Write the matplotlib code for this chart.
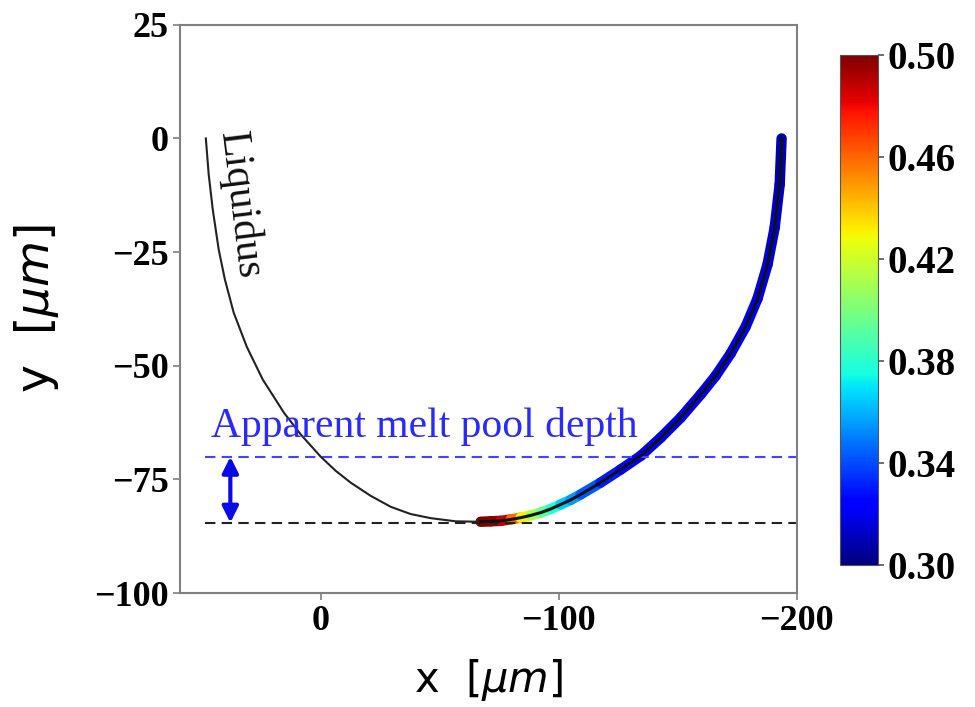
import numpy as np
import matplotlib.pyplot as plt
from matplotlib.collections import LineCollection
from matplotlib.colors import Normalize
from matplotlib.cm import ScalarMappable

# liquidus, left (uncoloured) branch
left_x = [48.3, 47.1, 45.4, 42.9, 40.3, 36.6, 31.1, 24.4, 15.5, 8.4, 0.0, -6.3, -12.6,
          -21.0, -29.4, -37.8, -46.2, -56.7, -67.2]
left_y = [0.0, -7.9, -15.6, -24.4, -31.0, -38.3, -45.8, -53.0, -60.3, -65.1, -70.0,
          -73.1, -75.7, -78.6, -81.0, -82.6, -83.5, -84.2, -84.3]

# liquidus, right branch coloured by value
right_x = [-67.2, -71.4, -75.6, -79.8, -84.0, -88.2, -92.4, -96.6, -100.8, -105.0, -109.2,
           -117.6, -126.1, -134.5, -142.9, -151.3, -159.7, -166.0, -172.3, -178.6,
           -183.6, -187.8, -190.8, -192.9, -193.7]
right_y = [-84.3, -84.2, -84.1, -83.8, -83.4, -82.9, -82.3, -81.5, -80.5, -79.5, -78.3,
           -75.7, -72.8, -69.8, -65.8, -61.4, -56.3, -52.2, -47.3, -41.4, -35.2, -27.7,
           -19.6, -10.1, 0.0]
right_val = [0.50, 0.50, 0.495, 0.48, 0.44, 0.42, 0.40, 0.385, 0.37, 0.36, 0.35,
             0.335, 0.325, 0.32, 0.32, 0.32, 0.32, 0.32, 0.32, 0.32, 0.32, 0.315,
             0.315, 0.31, 0.31]

apparent_depth = -70.0
true_depth = -84.5
arrow_x = 38.0
vmin, vmax = 0.30, 0.50
cbar_ticks = [0.30, 0.34, 0.38, 0.42, 0.46, 0.50]

serif = 'Liberation Serif'
frame = '#808080'

fig = plt.figure(figsize=(9.75, 7.07), dpi=100)
ax = fig.add_axes([0.185, 0.161, 0.632, 0.804])

# coloured band along the right branch
pts = np.column_stack([right_x, right_y])
segs = np.stack([pts[:-1], pts[1:]], axis=1)
seg_val = 0.5 * (np.array(right_val[:-1]) + np.array(right_val[1:]))
norm = Normalize(vmin, vmax)
lc = LineCollection(segs, cmap='jet', norm=norm, linewidths=7.5, capstyle='round',
                    joinstyle='round')
lc.set_array(seg_val)
ax.add_collection(lc)

ax.plot(left_x, left_y, color='#222222', lw=1.5, zorder=3, solid_joinstyle='round')
ax.plot(right_x, right_y, color='#111111', lw=2.2, zorder=3, solid_joinstyle='round')

ax.axhline(apparent_depth, xmin=0.04, xmax=1, color='#4444ff', ls='--', lw=1.5, dashes=(5, 3))
ax.axhline(true_depth, xmin=0.04, xmax=1, color='#222222', ls='--', lw=1.5, dashes=(5, 3), zorder=2)
ax.annotate('', xy=(arrow_x, true_depth), xytext=(arrow_x, apparent_depth),
            arrowprops=dict(arrowstyle='<|-|>', color='#0a0ae6', lw=3,
                            mutation_scale=24, shrinkA=0, shrinkB=0))

ax.text(46, -65.6, 'Apparent melt pool depth', color='#2a2aff', fontsize=30,
        family=serif, ha='left', va='baseline')
ax.text(42, 1.3, 'Liquidus', color='#111111', fontsize=30, family=serif,
        rotation=-83, rotation_mode='anchor', ha='left', va='baseline')

ax.set_xlim(59, -200)
ax.set_ylim(-100, 25)
ax.set_xticks([0, -100, -200])
ax.set_yticks([25, 0, -25, -50, -75, -100])
for s in ax.spines.values():
    s.set_color(frame)
    s.set_linewidth(1.5)
ax.tick_params(colors=frame, length=5, width=1.2, labelcolor='black')
for lab in ax.get_xticklabels() + ax.get_yticklabels():
    lab.set_fontfamily(serif)
    lab.set_fontweight('bold')
    lab.set_fontsize(26)
ax.set_xlabel(r'x  $[\mu m]$', fontsize=30, labelpad=14)
ax.set_ylabel(r'y  $[\mu m]$', fontsize=34, labelpad=24)

cax = fig.add_axes([0.862, 0.201, 0.038, 0.721])
sm = ScalarMappable(norm=norm, cmap='jet')
cb = fig.colorbar(sm, cax=cax, ticks=cbar_ticks)
cb.outline.set_edgecolor('#555555')
cb.ax.tick_params(length=4, width=1.2, color='#555555')
cb.ax.set_yticklabels(['%.2f' % t for t in cbar_ticks])
for lab in cb.ax.get_yticklabels():
    lab.set_fontfamily(serif)
    lab.set_fontweight('bold')
    lab.set_fontsize(28)

fig.savefig('out.png', dpi=100)
